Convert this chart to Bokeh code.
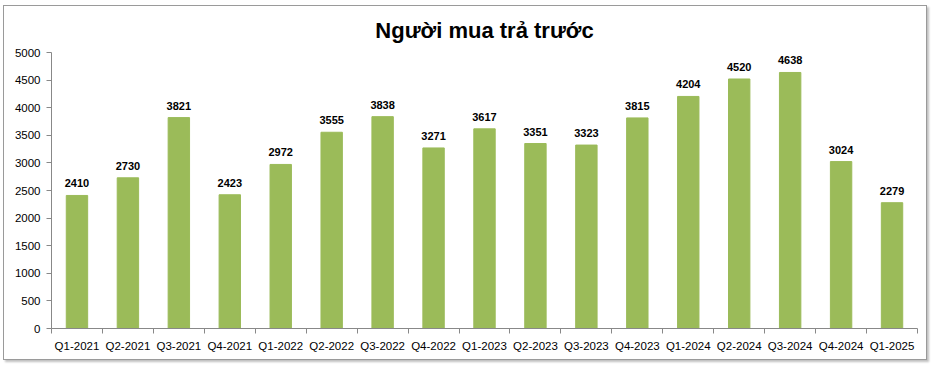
from bokeh.plotting import figure
from bokeh.models import ColumnDataSource, FixedTicker, LabelSet, Range1d
from bokeh.core.properties import value
from bokeh.embed import file_html
from bokeh.resources import INLINE

quarters = ["Q1-2021", "Q2-2021", "Q3-2021", "Q4-2021", "Q1-2022", "Q2-2022",
            "Q3-2022", "Q4-2022", "Q1-2023", "Q2-2023", "Q3-2023", "Q4-2023",
            "Q1-2024", "Q2-2024", "Q3-2024", "Q4-2024", "Q1-2025"]
values = [2410, 2730, 3821, 2423, 2972, 3555, 3838, 3271, 3617, 3351, 3323,
          3815, 4204, 4520, 4638, 3024, 2279]
y_ticks = [0, 500, 1000, 1500, 2000, 2500, 3000, 3500, 4000, 4500, 5000]

n = len(quarters)
centers = [i + 0.5 for i in range(n)]
bounds = list(range(n + 1))

src = ColumnDataSource(dict(x=centers, v=values, lab=[str(v) for v in values]))

p = figure(width=924, height=355, output_backend="svg", toolbar_location=None,
           x_range=Range1d(0, n), y_range=Range1d(0, 5000),
           min_border_left=47, min_border_right=11, min_border_bottom=33,
           min_border_top=0)
p.title.text = "Người mua trả trước"
p.title.align = "center"
p.title.text_font = "Liberation Sans"
p.title.text_font_size = "22px"
p.title.text_font_style = "bold"
p.title.text_color = "#000000"
p.title.offset = 0
p.title.standoff = 19

p.vbar(x="x", top="v", width=0.42, source=src, fill_color="#9BBB59",
       line_color="#9BBB59")

labels = LabelSet(x="x", y="v", text="lab", source=src, text_align="center",
                  text_baseline="bottom", y_offset=8,
                  text_font_size=value("11px"),
                  text_font_style=value("bold"),
                  text_font=value("Liberation Sans"),
                  text_color=value("#000000"))
p.add_layout(labels)

p.xgrid.visible = False
p.ygrid.visible = False
p.outline_line_color = None
p.background_fill_color = "white"
p.border_fill_color = "white"

p.xaxis.ticker = FixedTicker(ticks=centers, minor_ticks=bounds)
p.xaxis.major_label_overrides = {c: q for c, q in zip(centers, quarters)}
p.xaxis.major_tick_out = 0
p.xaxis.major_tick_in = 0
p.xaxis.minor_tick_out = 5
p.xaxis.minor_tick_in = 0
p.xaxis.minor_tick_line_color = "#888888"
p.xaxis.major_label_standoff = 6

p.yaxis.ticker = FixedTicker(ticks=y_ticks)
p.yaxis.major_tick_out = 5
p.yaxis.major_tick_in = 0
p.yaxis.minor_tick_line_color = None
p.yaxis.major_label_standoff = 6

for ax in (p.xaxis, p.yaxis):
    ax.axis_line_color = "#888888"
    ax.major_tick_line_color = "#888888"
    ax.major_label_text_font = "Liberation Sans"
    ax.major_label_text_font_size = "11.5px"
    ax.major_label_text_color = "#000000"

p.styles = {"border": "1px solid #9a9a9a", "box-shadow": "2px 2px 2px #c0c0c0",
            "margin-left": "3px", "margin-top": "5px"}

open("out.html", "w").write(file_html(p, INLINE))
